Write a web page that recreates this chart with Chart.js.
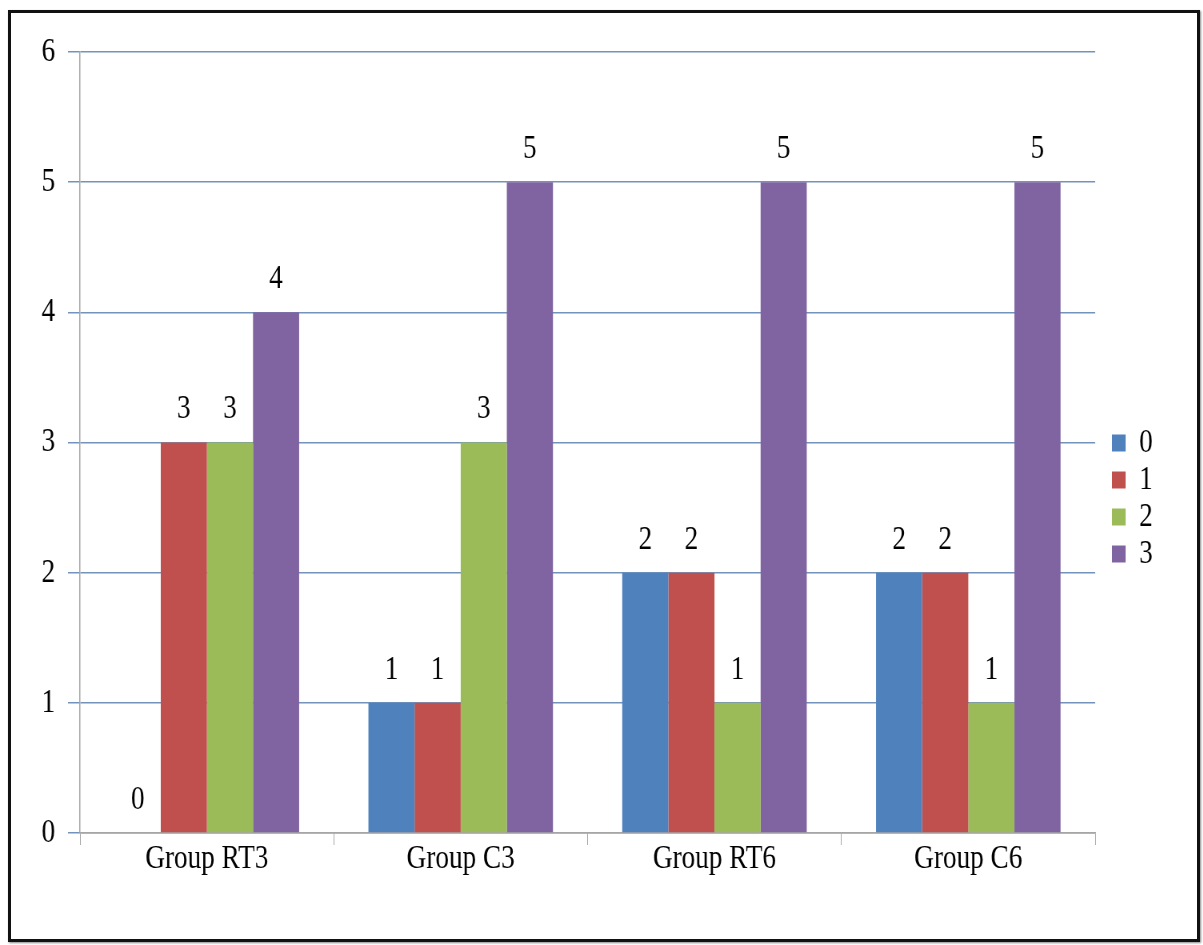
<!DOCTYPE html>
<html>
<head>
<meta charset="utf-8">
<script src="https://cdn.jsdelivr.net/npm/chart.js@4.4.0/dist/chart.umd.min.js"></script>
<style>
  body { margin: 0; background: #fff; }
  /* the original image is squeezed sideways, so the chart is drawn wider and scaled */
  #wrap { position: absolute; left: 0; top: 0; width: 1504px; height: 945px;
          transform: scaleX(0.8); transform-origin: 0 0; }
  #frame { position: absolute; left: 8px; top: 10px; width: 1186px; height: 926px;
           border: 3px solid #111; box-shadow: 1px 1px 2px #888; pointer-events: none; }
</style>
</head>
<body>
<div id="wrap"><canvas id="chart" width="1504" height="945"></canvas></div>
<div id="frame"></div>
<script>
var categories = ['Group RT3', 'Group C3', 'Group RT6', 'Group C6'];
var seriesNames = ['0', '1', '2', '3'];
var series0 = [0, 1, 2, 2];
var series1 = [3, 1, 2, 2];
var series2 = [3, 3, 1, 1];
var series3 = [4, 5, 5, 5];
var yTicks = [0, 1, 2, 3, 4, 5, 6];
var colors = ['#4f81bd', '#c0504d', '#9bbb59', '#8064a2'];

var serif = 'Liberation Serif, Times New Roman, serif';
var fontSize = 34;

// labels on top of each bar, like Excel's data labels
var barLabels = {
  id: 'barLabels',
  afterLayout: function(chart) {
    // push the legend a bit away from the plot, Excel style
    var legend = chart.legend;
    var dx = chart.chartArea.right + 18 - legend.left;
    legend.left += dx;
    legend.right += dx;
  },
  afterDatasetsDraw: function(chart) {
    var ctx = chart.ctx;
    ctx.save();
    ctx.font = fontSize + 'px ' + serif;
    ctx.fillStyle = '#000';
    ctx.textAlign = 'center';
    ctx.textBaseline = 'bottom';
    chart.data.datasets.forEach(function(ds, i) {
      var meta = chart.getDatasetMeta(i);
      meta.data.forEach(function(bar, j) {
        ctx.fillText(ds.data[j], bar.x, bar.y - 16);
      });
    });
    ctx.restore();
  }
};

var allSeries = [series0, series1, series2, series3];
var datasets = [];
for (var i = 0; i < allSeries.length; i++) {
  datasets.push({
    label: seriesNames[i],
    data: allSeries[i],
    backgroundColor: colors[i],
    categoryPercentage: 0.727,
    barPercentage: 1.0
  });
}

new Chart(document.getElementById('chart'), {
  type: 'bar',
  data: { labels: categories, datasets: datasets },
  options: {
    responsive: false,
    animation: false,
    layout: { padding: { top: 52, right: 71, left: 0, bottom: 0 } },
    plugins: {
      tooltip: { enabled: false },
      legend: {
        position: 'right',
        labels: {
          boxWidth: 17,
          boxHeight: 17,
          padding: 3,
          color: '#000',
          font: { family: serif, size: fontSize }
        }
      }
    },
    scales: {
      x: {
        grid: { offset: true, drawOnChartArea: false, tickLength: 12, color: '#a6a6a6' },
        border: { color: '#a6a6a6', width: 1.5 },
        ticks: { color: '#000', padding: -6, font: { family: serif, size: fontSize } },
        afterFit: function(scale) { scale.height = 112; }
      },
      y: {
        min: 0,
        max: 6,
        afterBuildTicks: function(scale) {
          scale.ticks = yTicks.map(function(v) { return { value: v }; });
        },
        grid: { color: '#7393bd', lineWidth: 1.5, tickLength: 15 },
        border: { color: '#a6a6a6', width: 1.5 },
        ticks: { color: '#000', padding: 16, font: { family: serif, size: fontSize } },
        afterFit: function(scale) { scale.width = 100; }
      }
    }
  },
  plugins: [barLabels]
});
</script>
</body>
</html>
